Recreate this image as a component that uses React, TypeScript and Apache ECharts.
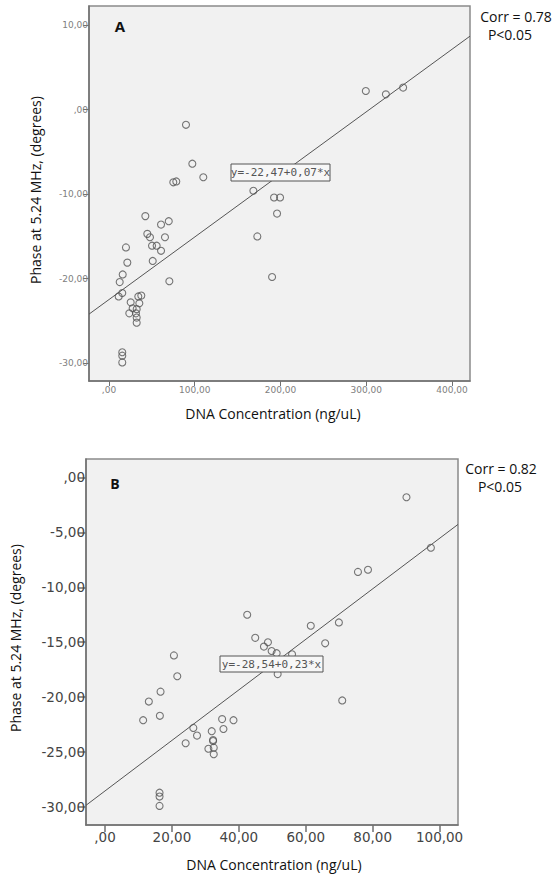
import React, { useEffect, useRef } from "react";
import * as echarts from "echarts";

// Panel A data
const xA = [89.8, 97.2, 110, 75, 78.5, 42.4, 60.7, 69.7, 44.7, 47.8, 65.3, 19.8, 50.2, 55.6, 60.7, 51, 21.4, 16, 12.5, 70.4, 15.5, 11.3, 34.2, 37.7, 25.3, 35.4, 27.6, 32.3, 23.7, 31.5, 32.3, 32.3, 15.5, 15.5, 15.5, 168.4, 192.5, 199.5, 196, 173, 190.2, 299.5, 322.9, 343];
const yA = [-1.8, -6.4, -8.0, -8.6, -8.5, -12.6, -13.6, -13.2, -14.7, -15.1, -15.1, -16.3, -16.1, -16.1, -16.7, -17.9, -18.1, -19.5, -20.4, -20.3, -21.7, -22.1, -22.1, -22.0, -22.8, -22.9, -23.5, -23.6, -24.1, -24.1, -24.6, -25.2, -28.7, -29.1, -29.9, -9.6, -10.4, -10.4, -12.3, -15.0, -19.8, 2.2, 1.8, 2.6];
const fitA = { intercept: -22.47, slope: 0.074 };
const xRangeA = [-23.3, 421];
const yRangeA = [-32.1, 12.25];
const xTicksA = [0, 100, 200, 300, 400];
const yTicksA = [-30, -20, -10, 0, 10];

// Panel B data
const xB = [42.5, 44.9, 48.7, 47.5, 49.8, 51.3, 20.6, 90.1, 97.4, 75.6, 78.6, 61.5, 69.9, 65.8, 55.9, 21.6, 16.6, 13.1, 16.4, 11.4, 35.0, 38.4, 26.4, 35.4, 27.5, 31.9, 24.1, 32.3, 32.3, 30.9, 32.5, 32.5, 16.3, 16.3, 16.3, 51.6, 70.9];
const yB = [-12.5, -14.6, -15.0, -15.4, -15.8, -16.0, -16.2, -1.8, -6.4, -8.6, -8.4, -13.5, -13.2, -15.1, -16.1, -18.1, -19.5, -20.4, -21.7, -22.1, -22.0, -22.1, -22.8, -22.9, -23.5, -23.1, -24.2, -23.9, -24.0, -24.7, -24.6, -25.2, -28.7, -29.05, -29.9, -17.9, -20.3];
const fitB = { intercept: -28.54, slope: 0.23 };
const xRangeB = [-5.68, 105.5];
const yRangeB = [-31.64, 1.68];
const xTicksB = [0, 20, 40, 60, 80, 100];
const yTicksB = [-30, -25, -20, -15, -10, -5, 0];

const eqA = "y=-22,47+0,07*x";
const eqB = "y=-28,54+0,23*x";
const corrA = ["Corr = 0.78", "P<0.05"];
const corrB = ["Corr = 0.82", "P<0.05"];
const yTitle = "Phase at 5.24 MHz, (degrees)";
const xTitle = "DNA Concentration (ng/uL)";

const fmt = (v: number) => {
  let s = Math.abs(v).toFixed(2).replace(".", ",");
  if (s.startsWith("0,")) s = s.slice(1);
  return (v < 0 ? "-" : "") + s;
};

export default function App() {
  const ref = useRef<HTMLDivElement>(null);
  useEffect(() => {
    document.body.style.margin = "0";
    const chart = echarts.init(ref.current!, null, { renderer: "svg" });
    const ptsA = xA.map((x, i) => [x, yA[i]]);
    const ptsB = xB.map((x, i) => [x, yB[i]]);
    const lineA = xRangeA.map((x) => [x, fitA.intercept + fitA.slope * x]);
    const lineB = xRangeB.map((x) => [x, fitB.intercept + fitB.slope * x]);
    const axisCol = "#707070";
    const mkX = (idx: number, range: number[], ticks: number[], small: boolean) => ({
      type: "value",
      gridIndex: idx,
      min: range[0],
      max: range[1],
      splitLine: { show: false },
      axisLine: { show: true, onZero: false, lineStyle: { color: axisCol, width: 1.5 } },
      axisTick: { show: true, inside: false, length: small ? 5 : 7, lineStyle: { color: axisCol, width: small ? 1 : 1.5 }, customValues: ticks },
      axisLabel: {
        customValues: ticks,
        formatter: fmt,
        color: small ? "#808080" : "#444",
        fontFamily: "DejaVu Sans",
        fontSize: small ? 9 : 13.5,
        margin: small ? 4 : 5,
      },
    });
    const mkY = (idx: number, range: number[], ticks: number[], small: boolean) => ({
      type: "value",
      gridIndex: idx,
      min: range[0],
      max: range[1],
      splitLine: { show: false },
      axisLine: { show: true, onZero: false, lineStyle: { color: axisCol, width: 1.5 } },
      axisTick: { show: true, inside: false, length: small ? 6 : 8, lineStyle: { color: axisCol, width: small ? 1 : 1.5 }, customValues: ticks },
      axisLabel: {
        customValues: ticks,
        formatter: fmt,
        color: small ? "#808080" : "#444",
        fontFamily: "DejaVu Sans",
        fontSize: small ? 9 : 13.5,
        margin: 1,
      },
    });
    const scatterStyle = { color: "rgba(0,0,0,0)", borderColor: "#555", borderWidth: 1.1 };
    const titleFont = "14px 'Open Sans'";
    const t = (x: number, y: number, text: string, font: string, extra: any = {}) => ({
      type: "text",
      x,
      y,
      ...extra,
      style: { text, font, fill: "#111", align: "center", verticalAlign: "middle", lineHeight: 15 },
      z: 11,
    });
    chart.setOption({
      animation: false,
      grid: [
        { left: 89, top: 6, width: 381, height: 375, show: true, backgroundColor: "#f1f1f1", borderColor: "#8a8a8a", borderWidth: 1.5 },
        { left: 86, top: 459, width: 372, height: 366, show: true, backgroundColor: "#f1f1f1", borderColor: "#8a8a8a", borderWidth: 1.5 },
      ],
      xAxis: [mkX(0, xRangeA, xTicksA, true), mkX(1, xRangeB, xTicksB, false)],
      yAxis: [mkY(0, yRangeA, yTicksA, true), mkY(1, yRangeB, yTicksB, false)],
      series: [
        { type: "line", xAxisIndex: 0, yAxisIndex: 0, data: lineA, showSymbol: false, lineStyle: { color: "#555", width: 1 }, z: 1 },
        { type: "scatter", xAxisIndex: 0, yAxisIndex: 0, data: ptsA, symbol: "circle", symbolSize: 7, itemStyle: scatterStyle, z: 2 },
        { type: "line", xAxisIndex: 1, yAxisIndex: 1, data: lineB, showSymbol: false, lineStyle: { color: "#555", width: 1 }, z: 1 },
        { type: "scatter", xAxisIndex: 1, yAxisIndex: 1, data: ptsB, symbol: "circle", symbolSize: 7, itemStyle: scatterStyle, z: 2 },
      ],
      graphic: [
        { type: "rect", shape: { x: 231, y: 164, width: 99, height: 17 }, style: { fill: "#f7f7f7", stroke: "#555", lineWidth: 1 }, z: 10 },
        { type: "text", x: 280.5, y: 172.5, style: { text: eqA, font: "11px 'DejaVu Sans Mono'", fill: "#555", align: "center", verticalAlign: "middle", lineHeight: 12 }, z: 11 },
        { type: "rect", shape: { x: 220, y: 656, width: 103, height: 16 }, style: { fill: "#f7f7f7", stroke: "#555", lineWidth: 1 }, z: 10 },
        { type: "text", x: 271.5, y: 664, style: { text: eqB, font: "11px 'DejaVu Sans Mono'", fill: "#555", align: "center", verticalAlign: "middle", lineHeight: 12 }, z: 11 },
        t(120, 26, "A", "bold 15px 'Open Sans'"),
        t(115, 483, "B", "bold 14px 'Open Sans'"),
        t(516, 16, corrA[0], titleFont),
        t(510, 34, corrA[1], titleFont),
        t(501, 468, corrB[0], titleFont),
        t(500, 486, corrB[1], titleFont),
        t(35, 190, yTitle, titleFont, { rotation: Math.PI / 2 }),
        t(15, 638, yTitle, titleFont, { rotation: Math.PI / 2 }),
        t(273, 413, xTitle, titleFont),
        t(274, 864, xTitle, titleFont),
      ],
    });
    return () => chart.dispose();
  }, []);
  return <div ref={ref} style={{ width: 555, height: 874, background: "#fff" }} />;
}
